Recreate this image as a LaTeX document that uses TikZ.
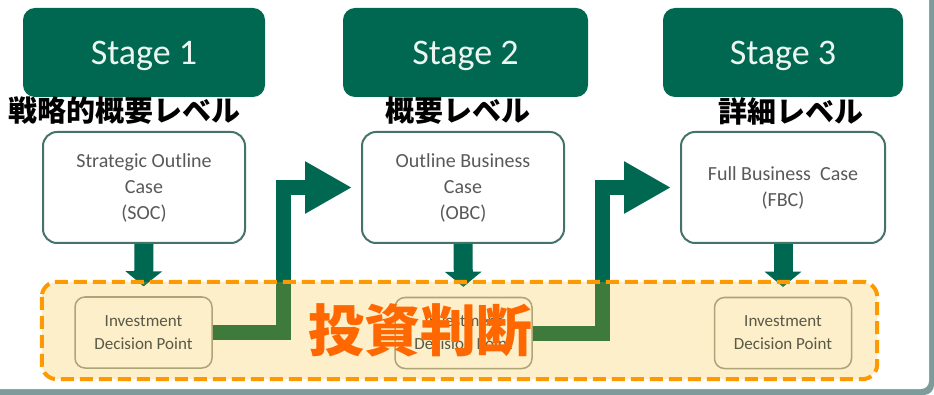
\documentclass[tikz,border=0pt]{standalone}
\usepackage{fontspec}
\setmainfont{Carlito}
\newfontfamily\jp{Noto Sans CJK JP}
\usetikzlibrary{arrows.meta}
\definecolor{stagegreen}{RGB}{0,104,80}
\definecolor{olivegreen}{RGB}{62,122,60}
\definecolor{casegray}{RGB}{89,89,89}
\definecolor{caseborder}{RGB}{70,115,105}
\definecolor{zonefill}{RGB}{252,239,201}
\definecolor{zoneorange}{RGB}{255,153,0}
\definecolor{idpborder}{RGB}{172,165,120}
\definecolor{idptext}{RGB}{90,88,70}
\definecolor{bigorange}{RGB}{255,104,0}
\definecolor{framegray}{RGB}{125,155,155}
\definecolor{stagetext}{RGB}{236,246,240}
\begin{document}
\begin{tikzpicture}[x=1pt,y=-1pt,
 stagebox/.style={fill=stagegreen, rounded corners=12pt, minimum height=89pt, text=stagetext, font=\fontsize{36}{40}\selectfont, text depth=0pt, inner sep=0pt},
 levellabel/.style={font=\jp\bfseries\fontsize{29}{32}\selectfont, text=black, inner sep=0pt},
 casebox/.style={draw=caseborder, line width=2pt, fill=white, rounded corners=14pt, minimum height=111pt, align=center, text=casegray, font=\fontsize{20}{26}\selectfont, inner sep=0pt, execute at begin node={\rule{0pt}{20pt}}},
 idpbox/.style={draw=idpborder, line width=1.5pt, fill=zonefill, rounded corners=10pt, minimum width=137pt, minimum height=71pt, align=center, text=idptext, font=\fontsize{17}{23}\selectfont, inner sep=0pt},
 downarrow/.style={line width=19pt, -{Triangle[length=15pt,width=36pt]}, shorten >=10pt},
 bigarrow/.style={line width=15pt, line join=miter, -{Triangle[length=47pt,width=49pt]}, shorten >=9pt},
 zonebox/.style={fill=zonefill, rounded corners=15pt, minimum width=835pt, minimum height=97pt, inner sep=0pt},
 zoneline/.style={draw=zoneorange, line width=4pt, dash pattern=on 13pt off 6pt, rounded corners=15pt},
 bigtext/.style={font=\jp\bfseries\fontsize{56}{60}\selectfont, text=bigorange, inner sep=0pt}
]
\useasboundingbox (0,0) rectangle (934,395);
% frame
\fill[framegray, rounded corners=10pt] (-20,-20) rectangle (934,395);
\fill[white, rounded corners=8pt] (-20,-20) rectangle (929,389);

% stages
\node[stagebox, minimum width=242pt] (s1) at (144,52.5) {Stage 1};
\node[stagebox, minimum width=245pt] (s2) at (465.5,52.5) {Stage 2};
\node[stagebox, minimum width=240pt] (s3) at (783,52.5) {Stage 3};

% level labels
\node[levellabel] (l1) at (124.5,111) {戦略的概要レベル};
\node[levellabel] (l2) at (457.5,111) {概要レベル};
\node[levellabel] (l3) at (791,111) {詳細レベル};

% case boxes
\node[casebox, minimum width=202pt] (soc) at (144,187.5) {Strategic Outline\\Case\\(SOC)};
\node[casebox, minimum width=202pt] (obc) at (463,187.5) {Outline Business\\Case\\(OBC)};
\node[casebox, minimum width=204pt] (fbc) at (783,187.5) {Full Business\ \ Case\\(FBC)};

% zone
\node[zonebox] (zone) at (459.5,330.5) {};

% decision points
\node[idpbox] (idp1) at (143.5,332.5) {Investment\\Decision Point};
\node[idpbox] (idp2) at (463.5,333) {Investment\\Decision Point};
\node[idpbox] (idp3) at (783,333) {Investment\\Decision Point};

% arrows
\draw[downarrow, stagegreen] (soc.south) -- (idp1.north);
\draw[downarrow, stagegreen] (obc.south) -- (idp2.north);
\draw[downarrow, stagegreen] (fbc.south) -- (idp3.north);
\draw[bigarrow, stagegreen] (idp1.east) -- ++(71,0) |- (obc.west);
\draw[bigarrow, stagegreen] (idp2.east) -- ++(70,0) |- (fbc.west);

\begin{scope}
\clip[rounded corners=15pt] (zone.north west) rectangle (zone.south east);
\draw[downarrow, olivegreen] (soc.south) -- (idp1.north);
\draw[downarrow, olivegreen] (obc.south) -- (idp2.north);
\draw[downarrow, olivegreen] (fbc.south) -- (idp3.north);
\draw[bigarrow, olivegreen] (idp1.east) -- ++(71,0) |- (obc.west);
\draw[bigarrow, olivegreen] (idp2.east) -- ++(70,0) |- (fbc.west);
\end{scope}

\draw[zoneline] (zone.north west) rectangle (zone.south east);

\node[bigtext] (kanji) at (420.5,330) {投資判断};
\end{tikzpicture}
\end{document}
